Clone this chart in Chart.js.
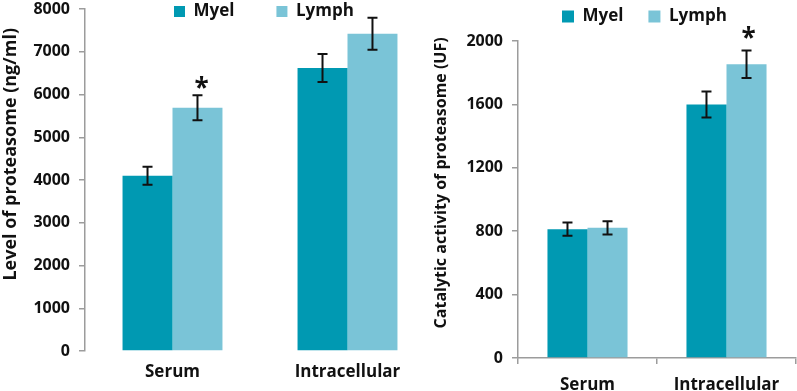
<!DOCTYPE html>
<html>
<head>
<meta charset="utf-8">
<script src="https://cdn.jsdelivr.net/npm/chart.js@4"></script>
<style>
  html, body { margin: 0; padding: 0; background: #fff; overflow: hidden; }
  #wrap { position: relative; width: 797px; height: 391px; }
  canvas { position: absolute; top: 0; }
  #leftChart { left: 0; }
  #rightChart { left: 430px; }
</style>
</head>
<body>
<div id="wrap">
  <canvas id="leftChart" width="440" height="391"></canvas>
  <canvas id="rightChart" width="367" height="391"></canvas>
</div>
<script>
// categories and series
var categories = ['Serum', 'Intracellular'];
var seriesNames = ['Myel', 'Lymph'];

// left panel: level of proteasome (ng/ml)
var levelMyel = [4100, 6620];
var levelMyelErr = [210, 330];
var levelLymph = [5690, 7420];
var levelLymphErr = [290, 375];
var levelTicks = [0, 1000, 2000, 3000, 4000, 5000, 6000, 7000, 8000];
var levelStars = [[1, 0]]; // [dataset, category]

// right panel: catalytic activity (UF)
var activityMyel = [813, 1600];
var activityMyelErr = [42, 82];
var activityLymph = [821, 1853];
var activityLymphErr = [42, 87];
var activityTicks = [0, 400, 800, 1200, 1600, 2000];
var activityStars = [[1, 1]];

var colors = ['#0099B2', '#7AC4D7'];
var axisGrey = '#9c9c9c';
var fontFamily = '"Open Sans", "DejaVu Sans", sans-serif';

// error bars and significance stars
var errorBars = {
    id: 'errorBars',
    afterDatasetsDraw: function (chart, args, opts) {
        var ctx = chart.ctx;
        var y = chart.scales.y;
        ctx.save();
        ctx.strokeStyle = '#111';
        ctx.lineWidth = 2;
        chart.data.datasets.forEach(function (ds, di) {
            var meta = chart.getDatasetMeta(di);
            meta.data.forEach(function (bar, i) {
                var v = ds.data[i], e = ds.errors[i];
                var top = y.getPixelForValue(v + e);
                var bot = y.getPixelForValue(v - e);
                ctx.beginPath();
                ctx.moveTo(bar.x, top); ctx.lineTo(bar.x, bot);
                ctx.moveTo(bar.x - 5, top); ctx.lineTo(bar.x + 5, top);
                ctx.moveTo(bar.x - 5, bot); ctx.lineTo(bar.x + 5, bot);
                ctx.stroke();
            });
        });
        ctx.fillStyle = '#111';
        ctx.font = 'bold 26px ' + fontFamily;
        ctx.textAlign = 'center';
        ctx.textBaseline = 'alphabetic';
        (opts.stars || []).forEach(function (s) {
            var ds = chart.data.datasets[s[0]];
            var bar = chart.getDatasetMeta(s[0]).data[s[1]];
            var top = y.getPixelForValue(ds.data[s[1]] + ds.errors[s[1]]);
            ctx.fillText('*', bar.x + opts.starDx, top - opts.starGap);
        });
        ctx.restore();
    }
};

// put the legend where the original has it
var legendPlace = {
    id: 'legendPlace',
    afterLayout: function (chart, args, opts) {
        var lg = chart.legend;
        var w = lg.right - lg.left, h = lg.bottom - lg.top;
        lg.left = opts.x; lg.top = opts.y;
        lg.right = opts.x + w; lg.bottom = opts.y + h;
    }
};

function makeChart(id, a, aErr, b, bErr, ticks, title, o) {
    var ctx = document.getElementById(id).getContext('2d');
    return new Chart(ctx, {
        type: 'bar',
        data: {
            labels: categories,
            datasets: [
                { label: seriesNames[0], data: a, errors: aErr, backgroundColor: colors[0], borderWidth: 0 },
                { label: seriesNames[1], data: b, errors: bErr, backgroundColor: colors[1], borderWidth: 0 }
            ]
        },
        plugins: [errorBars, legendPlace],
        options: {
            responsive: false,
            animation: false,
            // legend height is itemHeight(17) + padding + 10, taken back here
            layout: { padding: { top: o.top - (17 + o.legPad + 10), right: o.right, left: 0, bottom: 0 } },
            datasets: { bar: { categoryPercentage: o.catPct, barPercentage: 1 } },
            plugins: {
                legend: {
                    position: 'top',
                    fullSize: false,
                    align: 'start',
                    labels: {
                        boxWidth: o.box, boxHeight: o.box,
                        padding: o.legPad,
                        color: '#111',
                        font: { family: fontFamily, size: 17, weight: 'bold' }
                    }
                },
                legendPlace: { x: o.legX - o.legPad, y: o.legY - o.legPad },
                errorBars: { stars: o.stars, starDx: o.starDx, starGap: o.starGap },
                tooltip: { enabled: false }
            },
            scales: {
                x: {
                    afterFit: function (s) { s.height = o.xH; },
                    border: { display: o.xBorder, color: axisGrey, width: 1.5 },
                    grid: { display: o.xBorder, drawOnChartArea: false, drawTicks: o.xBorder, tickLength: 6, color: axisGrey, lineWidth: 1.5 },
                    ticks: { color: '#111', padding: o.xPad, font: { family: fontFamily, size: 17, weight: 'bold' } }
                },
                y: {
                    min: ticks[0],
                    max: ticks[ticks.length - 1],
                    afterFit: function (s) { s.width = o.yW; },
                    afterBuildTicks: function (s) { s.ticks = ticks.map(function (v) { return { value: v }; }); },
                    border: { display: true, color: axisGrey, width: 1.5 },
                    grid: { drawOnChartArea: false, drawTicks: true, tickLength: 6, color: axisGrey, lineWidth: 1.5 },
                    ticks: {
                        color: '#111', padding: 9,
                        callback: function (v) { return String(v); },
                        font: { family: fontFamily, size: 16, weight: 'bold', lineHeight: '0px' }
                    },
                    title: {
                        display: true,
                        text: title,
                        color: '#111',
                        padding: { top: o.titlePad, bottom: 0 },
                        font: { family: fontFamily, size: o.titleSize, weight: 'bold' }
                    }
                }
            }
        }
    });
}

makeChart('leftChart', levelMyel, levelMyelErr, levelLymph, levelLymphErr, levelTicks,
    '           Level of proteasome (ng/ml)',
    { top: 7, right: 5, catPct: 0.571, box: 11, legPad: 42, legX: 174, legY: 3,
      stars: levelStars, starDx: 4, starGap: -2, xH: 40, xBorder: false, xPad: 11,
      yW: 85, titlePad: 0, titleSize: 18 });

makeChart('rightChart', activityMyel, activityMyelErr, activityLymph, activityLymphErr, activityTicks,
    '        Catalytic activity of proteasome (UF)',
    { top: 41, right: 1, catPct: 0.576, box: 12, legPad: 25, legX: 132, legY: 8,
      stars: activityStars, starDx: 2, starGap: 4, xH: 33, xBorder: true, xPad: 11,
      yW: 88, titlePad: 2, titleSize: 16 });
</script>
</body>
</html>
